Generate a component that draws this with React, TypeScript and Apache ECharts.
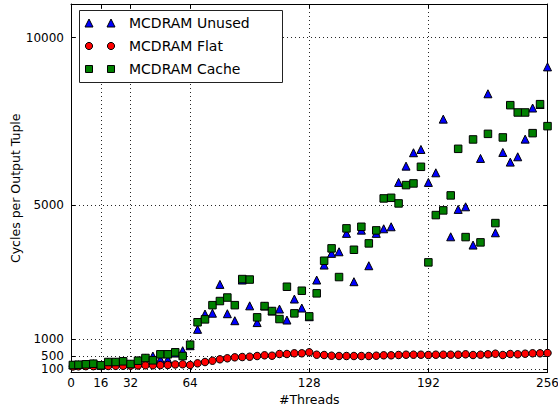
import React, { useEffect, useRef } from "react";
import * as echarts from "echarts";

const threads = [1, 4, 8, 12, 16, 20, 24, 28, 32, 36, 40, 44, 48, 52, 56, 60, 64, 68, 72, 76, 80, 84, 88, 92, 96, 100, 104, 108, 112, 116, 120, 124, 128, 132, 136, 140, 144, 148, 152, 156, 160, 164, 168, 172, 176, 180, 184, 188, 192, 196, 200, 204, 208, 212, 216, 220, 224, 228, 232, 236, 240, 244, 248, 252, 256];

const unused = [224, 233, 245, 263, 215, 313, 313, 334, 254, 352, 433, 492, 393, 393, 580, 651, 800, 1289, 1745, 1770, 2630, 1755, 1546, 2760, 1990, 1490, 1984, 1835, 1894, 1566, 2193, 1924, 1665, 2760, 3207, 3556, 3604, 4153, 2710, 4250, 3187, 4153, 4290, 4350, 5674, 6160, 6560, 6658, 5674, 5961, 7563, 4051, 4869, 4946, 3804, 6390, 8320, 4171, 6569, 6280, 6439, 6966, 7895, 8000, 9123];

const flat = [180, 185, 190, 190, 195, 195, 200, 200, 205, 210, 215, 215, 220, 225, 240, 245, 224, 274, 313, 352, 394, 424, 453, 462, 471, 492, 513, 501, 552, 552, 573, 573, 603, 531, 522, 501, 492, 492, 492, 492, 492, 501, 513, 513, 522, 531, 531, 531, 522, 531, 531, 531, 531, 543, 522, 531, 543, 561, 522, 552, 543, 561, 573, 573, 582];

const cache = [224, 233, 245, 263, 215, 313, 313, 334, 254, 352, 433, 364, 543, 543, 603, 492, 830, 1500, 1586, 2010, 2133, 2238, 2010, 2789, 2775, 1646, 1984, 1835, 1596, 2560, 1765, 2441, 1675, 2363, 3336, 3705, 2849, 4302, 3664, 4350, 3854, 4242, 5196, 5215, 5047, 5594, 5644, 6140, 3287, 4699, 4839, 5286, 6677, 4042, 6957, 3884, 7124, 4460, 7017, 7980, 7762, 7762, 7145, 8010, 7354];

const xTicks = [0, 16, 32, 64, 128, 192, 256];
const yTicks = [100, 500, 1000, 5000, 10000];
const seriesNames = ["MCDRAM Unused", "MCDRAM Flat", "MCDRAM Cache"];
const seriesColors = ["#0000ff", "#ff0000", "#008000"];
const seriesSymbols = ["triangle", "circle", "rect"];
const xName = "#Threads";
const yName = "Cycles per Output Tuple";

const FONT = "DejaVu Sans";

function pairs(vals: number[]) {
  return threads.map((t, i) => [t, vals[i]]);
}

function legendGraphic() {
  const els: any[] = [];
  els.push({
    type: "rect",
    shape: { x: 79.5, y: 10.5, width: 203, height: 72 },
    style: { fill: "#fff", stroke: "#222", lineWidth: 1 },
    z: 100,
  });
  const rows = [23, 46, 69];
  const mx = [89, 111];
  seriesNames.forEach((name, i) => {
    const cy = rows[i];
    mx.forEach((cx) => {
      const style = { fill: seriesColors[i], stroke: "#000", lineWidth: 1 };
      if (seriesSymbols[i] === "triangle") {
        els.push({
          type: "polygon",
          shape: { points: [[cx, cy - 4], [cx - 4, cy + 4], [cx + 4, cy + 4]] },
          style,
          z: 101,
        });
      } else if (seriesSymbols[i] === "circle") {
        els.push({ type: "circle", shape: { cx, cy, r: 3.6 }, style, z: 101 });
      } else {
        els.push({ type: "rect", shape: { x: cx - 3.5, y: cy - 3.5, width: 7, height: 7 }, style, z: 101 });
      }
    });
    els.push({
      type: "text",
      x: 129,
      y: cy,
      style: {
        text: name,
        fill: "#000",
        fontFamily: FONT,
        fontSize: 14,
        verticalAlign: "middle",
        align: "left",
      },
      z: 101,
    });
  });
  return els;
}

export default function App() {
  const ref = useRef<HTMLDivElement>(null);
  useEffect(() => {
    if (!ref.current) return;
    const chart = echarts.init(ref.current, undefined, { renderer: "svg" });
    const splitLine = { show: true, lineStyle: { color: "#000", type: [1, 3], width: 1, opacity: 0.85 } };
    const axisLine = { show: true, onZero: false, lineStyle: { color: "#000", width: 1 } };
    const tick = (vals: number[]) => ({ show: true, inside: true, length: 4, customValues: vals, lineStyle: { color: "#000" } });
    const fmt = (v: number) => String(v);
    const option: any = {
      animation: false,
      backgroundColor: "#fff",
      textStyle: { fontFamily: FONT },
      grid: { left: 71, right: 10.5, top: 4, bottom: 37.5, containLabel: false, outerBoundsMode: "none" },
      xAxis: [
        {
          type: "value",
          min: 0,
          max: 256,
          position: "bottom",
          name: xName,
          nameLocation: "middle",
          nameGap: 20,
          nameMoveOverlap: false,
          nameTextStyle: { fontFamily: FONT, fontSize: 12.5, color: "#000" },
          axisLine,
          axisTick: tick(xTicks),
          axisLabel: { customValues: xTicks, formatter: fmt, margin: 4, fontFamily: FONT, fontSize: 12, color: "#000", hideOverlap: false },
          splitLine,
        },
        {
          type: "value",
          min: 0,
          max: 256,
          position: "top",
          axisLine,
          axisTick: tick(xTicks),
          axisLabel: { show: false },
          splitLine: { show: false },
        },
      ],
      yAxis: [
        {
          type: "value",
          min: 0,
          max: 11000,
          position: "left",
          name: yName,
          nameLocation: "middle",
          nameGap: 49,
          nameMoveOverlap: false,
          nameTextStyle: { fontFamily: FONT, fontSize: 12.5, color: "#000" },
          axisLine,
          axisTick: tick(yTicks),
          axisLabel: { customValues: yTicks, formatter: fmt, margin: 7, fontFamily: FONT, fontSize: 12, lineHeight: 12, color: "#000", hideOverlap: false },
          splitLine,
        },
        {
          type: "value",
          min: 0,
          max: 11000,
          position: "right",
          axisLine,
          axisTick: tick(yTicks),
          axisLabel: { show: false },
          splitLine: { show: false },
        },
      ],
      series: [unused, flat, cache].map((vals, i) => ({
        type: "scatter",
        name: seriesNames[i],
        data: pairs(vals),
        symbol: seriesSymbols[i],
        symbolSize: i === 0 ? 8 : 7.5,
        itemStyle: { color: seriesColors[i], borderColor: "#000", borderWidth: 1, opacity: 1 },
        xAxisIndex: 0,
        yAxisIndex: 0,
        z: 2 + i,
      })),
      graphic: legendGraphic(),
    };
    chart.setOption(option);
    return () => chart.dispose();
  }, []);
  return (
    <div
      ref={ref}
      style={{ position: "fixed", left: 0, top: 0, width: 558, height: 410, background: "#fff" }}
    />
  );
}
